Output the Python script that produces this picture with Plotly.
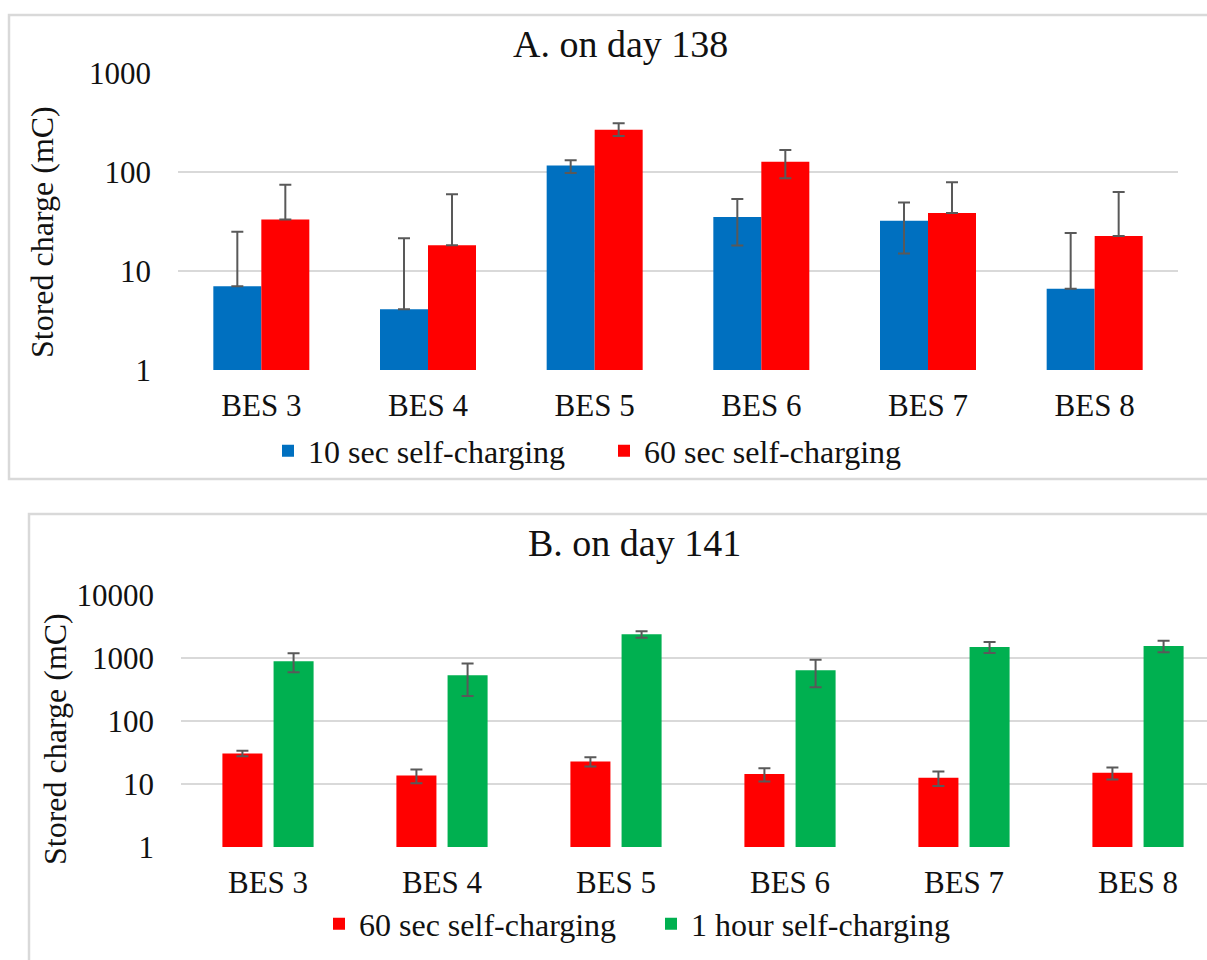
import plotly.graph_objects as go

# ---------------- data ----------------
categories = ["BES 3", "BES 4", "BES 5", "BES 6", "BES 7", "BES 8"]

# Panel A (day 138)
a_10sec = [7.0, 4.1, 116, 35, 32, 6.6]
a_10sec_err_plus = [17.8, 17.2, 15, 18, 17, 17.5]
a_10sec_err_minus = [0, 0, 19, 17, 17, 0]
a_60sec = [33, 18.2, 265, 126, 38.5, 22.5]
a_60sec_err_plus = [41, 41, 44, 40, 40, 40]
a_60sec_err_minus = [0, 0, 35, 40, 0, 0]

# Panel B (day 141)
b_60sec = [30.7, 13.7, 22.9, 14.4, 12.6, 15.1]
b_60sec_err = [3.0, 3.4, 3.8, 3.4, 3.3, 3.3]
b_1hour = [896, 537, 2400, 645, 1513, 1567]
b_1hour_err = [300, 285, 280, 300, 300, 320]

y_ticks_a = [1, 10, 100, 1000]
y_ticks_b = [1, 10, 100, 1000, 10000]

# ---------------- style ----------------
W, H = 1207, 960
FONT = "Liberation Serif"
TXT = "#111111"
BLUE, RED, GREEN = "#0070C0", "#FF0000", "#00B050"
ERR = "#595959"
GRID = "#D9D9D9"


def px(x):
    return x / W


def py(y):
    return 1 - y / H


def err(plus, minus):
    return dict(type="data", array=plus, arrayminus=minus, symmetric=False,
                color=ERR, thickness=2, width=6, visible=True)


fig = go.Figure()

# Panel A
fig.add_trace(go.Bar(x=categories, y=a_10sec, name="10 sec self-charging",
                     marker=dict(color=BLUE, line=dict(width=0)),
                     error_y=err(a_10sec_err_plus, a_10sec_err_minus),
                     xaxis="x", yaxis="y", legend="legend"))
fig.add_trace(go.Bar(x=categories, y=a_60sec, name="60 sec self-charging",
                     marker=dict(color=RED, line=dict(width=0)),
                     error_y=err(a_60sec_err_plus, a_60sec_err_minus),
                     xaxis="x", yaxis="y", legend="legend"))

# Panel B (explicit widths/offsets to leave a small gap between the pair)
bw = 0.23
fig.add_trace(go.Bar(x=categories, y=b_60sec, name="60 sec self-charging",
                     marker=dict(color=RED, line=dict(width=0)),
                     width=bw, offset=-0.262,
                     error_y=err(b_60sec_err, b_60sec_err),
                     xaxis="x2", yaxis="y2", legend="legend2"))
fig.add_trace(go.Bar(x=categories, y=b_1hour, name="1 hour self-charging",
                     marker=dict(color=GREEN, line=dict(width=0)),
                     width=bw, offset=0.032,
                     error_y=err(b_1hour_err, b_1hour_err),
                     xaxis="x2", yaxis="y2", legend="legend2"))

tickfont = dict(family=FONT, size=31, color=TXT)

common_y = dict(type="log", showgrid=True, gridcolor=GRID, gridwidth=2,
                zeroline=False, showline=False, ticks="", tickfont=tickfont,
                ticklabelstandoff=26, fixedrange=True, automargin=False)
common_x = dict(type="category", showgrid=False, showline=False, ticks="",
                tickfont=tickfont, ticklabelstandoff=14, fixedrange=True,
                automargin=False)

shapes = [
    # panel borders
    dict(type="rect", xref="paper", yref="paper",
         x0=px(9), x1=px(1260), y0=py(479), y1=py(15),
         line=dict(color=GRID, width=2.5), fillcolor="rgba(0,0,0,0)", layer="below"),
    dict(type="rect", xref="paper", yref="paper",
         x0=px(29), x1=px(1260), y0=py(1010), y1=py(514),
         line=dict(color=GRID, width=2.5), fillcolor="rgba(0,0,0,0)", layer="below"),
]

annotations = [
    dict(text="A. on day 138", xref="paper", yref="paper", x=px(620), y=py(44),
         xanchor="center", yanchor="middle", showarrow=False,
         font=dict(family=FONT, size=38, color=TXT)),
    dict(text="B. on day 141", xref="paper", yref="paper", x=px(634), y=py(543),
         xanchor="center", yanchor="middle", showarrow=False,
         font=dict(family=FONT, size=38, color=TXT)),
    dict(text="Stored charge (mC)", xref="paper", yref="paper", x=px(42), y=py(232),
         xanchor="center", yanchor="middle", showarrow=False, textangle=-90,
         font=dict(family=FONT, size=32, color=TXT)),
    dict(text="Stored charge (mC)", xref="paper", yref="paper", x=px(55), y=py(739),
         xanchor="center", yanchor="middle", showarrow=False, textangle=-90,
         font=dict(family=FONT, size=32, color=TXT)),
]

legfont = dict(family=FONT, size=32, color=TXT)

fig.update_layout(
    width=W, height=H,
    margin=dict(l=0, r=0, t=0, b=0, autoexpand=False),
    paper_bgcolor="white", plot_bgcolor="white",
    barmode="group", bargap=0.424, bargroupgap=0,
    showlegend=True,
    xaxis=dict(domain=[px(178), px(1178)], anchor="y", range=[-0.5, 5.5], **common_x),
    yaxis=dict(domain=[py(370), py(72.7)], anchor="x", range=[0, 3],
               tickvals=y_ticks_a, ticktext=[str(v) for v in y_ticks_a], **common_y),
    xaxis2=dict(domain=[px(181), 1.0], anchor="y2", range=[-0.5, -0.5 + 1026 / 174], **common_x),
    yaxis2=dict(domain=[py(847), py(595.3)], anchor="x2", range=[0, 4],
                tickvals=y_ticks_b, ticktext=[str(v) for v in y_ticks_b], **common_y),
    legend=dict(orientation="h", x=px(268), y=py(451), xanchor="left", yanchor="middle",
                font=legfont, bgcolor="rgba(0,0,0,0)", entrywidth=291,
                entrywidthmode="pixels", itemclick=False, itemdoubleclick=False),
    legend2=dict(orientation="h", x=px(319), y=py(924), xanchor="left", yanchor="middle",
                 font=legfont, bgcolor="rgba(0,0,0,0)", entrywidth=287,
                 entrywidthmode="pixels", itemclick=False, itemdoubleclick=False),
    shapes=shapes,
    annotations=annotations,
)

fig.write_html("out.html", include_plotlyjs=True, config={"displayModeBar": False})
